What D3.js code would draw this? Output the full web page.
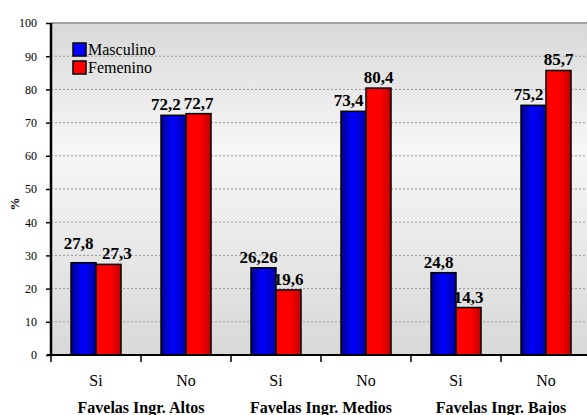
<!DOCTYPE html>
<html><head><meta charset="utf-8">
<script src="https://cdn.jsdelivr.net/npm/d3@7"></script>
<style>body{margin:0;background:#fff}svg{display:block}text{font-family:"Liberation Serif","Times New Roman",serif}</style>
</head><body><svg id="c" width="587" height="415"></svg>
<script>
const groups = ["Favelas Ingr. Altos","Favelas Ingr. Medios","Favelas Ingr. Bajos"];
const answers = ["Si","No"];
const seriesNames = ["Masculino","Femenino"];
const masculino = [27.8, 72.2, 26.26, 73.4, 24.8, 75.2];
const femenino  = [27.3, 72.7, 19.6, 80.4, 14.3, 85.7];
const masculinoLabels = ["27,8","72,2","26,26","73,4","24,8","75,2"];
const femeninoLabels  = ["27,3","72,7","19,6","80,4","14,3","85,7"];
const yTicks = [0,10,20,30,40,50,60,70,80,90,100];

const svg = d3.select("#c");
const L = 51, R = 591, T = 23, B = 355;
const slots = d3.range(groups.length*answers.length);
const x = d3.scaleBand().domain(slots).range([L,R]).padding(0);
const xs = d3.scaleBand().domain(seriesNames).range([0,x.bandwidth()]).paddingOuter(0.8).paddingInner(0);
const y = d3.scaleLinear().domain([0,100]).range([B,T]);

const defs = svg.append("defs");
const bg = defs.append("linearGradient").attr("id","bg").attr("x1",0).attr("y1",0).attr("x2",0).attr("y2",1);
bg.append("stop").attr("offset","0%").attr("stop-color","#d8d8d8");
bg.append("stop").attr("offset","38%").attr("stop-color","#f7f7f7");
bg.append("stop").attr("offset","100%").attr("stop-color","#d8d8d8");
const gb = defs.append("linearGradient").attr("id","gBlue");
gb.append("stop").attr("offset","0%").attr("stop-color","#00008a");
gb.append("stop").attr("offset","45%").attr("stop-color","#0000ff");
gb.append("stop").attr("offset","100%").attr("stop-color","#0000b0");
const gr = defs.append("linearGradient").attr("id","gRed");
gr.append("stop").attr("offset","0%").attr("stop-color","#ff0000");
gr.append("stop").attr("offset","55%").attr("stop-color","#ff0000");
gr.append("stop").attr("offset","100%").attr("stop-color","#c00000");
const fills = {"Masculino":"url(#gBlue)","Femenino":"url(#gRed)"};
const legendFills = {"Masculino":"#0000ff","Femenino":"#ff0000"};

svg.append("rect").attr("x",L).attr("y",T).attr("width",R-L).attr("height",B-T).attr("fill","url(#bg)");

// gridlines
svg.append("g").selectAll("line").data(yTicks.filter(d=>d>0&&d<100)).join("line")
  .attr("x1",L).attr("x2",R).attr("y1",d=>y(d)).attr("y2",d=>y(d))
  .attr("stroke","#9a9a9a").attr("stroke-width",1).attr("stroke-dasharray","2,2");
svg.append("line").attr("x1",L).attr("x2",R).attr("y1",y(100)).attr("y2",y(100))
  .attr("stroke","#a0a0a0").attr("stroke-width",2);

// bars
const data = slots.map(i=>({i, vals:[
  {s:"Masculino", v:masculino[i], lab:masculinoLabels[i]},
  {s:"Femenino", v:femenino[i], lab:femeninoLabels[i]}]}));
const g = svg.append("g");
data.forEach(d=>{
  d.vals.forEach(b=>{
    g.append("rect").attr("x",x(d.i)+xs(b.s)).attr("y",y(b.v))
      .attr("width",xs.bandwidth()).attr("height",B-y(b.v))
      .attr("fill",fills[b.s]).attr("stroke","#000").attr("stroke-width",1.5);
  });
});

// value labels
const lg = svg.append("g");
data.forEach(d=>{
  const bv = d.vals[0], rv = d.vals[1];
  const bx = x(d.i)+xs("Masculino")+xs.bandwidth()/2;
  const rx = x(d.i)+xs("Femenino")+xs.bandwidth()/2;
  const tb = lg.append("text").text(bv.lab).attr("font-size",17).attr("font-weight","bold").attr("text-anchor","middle");
  const tr = lg.append("text").text(rv.lab).attr("font-size",17).attr("font-weight","bold").attr("text-anchor","middle");
  const wb = tb.node().getComputedTextLength(), wr = tr.node().getComputedTextLength();
  let cb = bx-5, cr = rx;
  let yb = y(bv.v)-5, yr = y(rv.v)-5;
  // avoid red label overlapping blue bar
  if (rv.v < bv.v && yr-13 < y(bv.v) && cr - wr/2 < x(d.i)+xs("Femenino")+6) {
    cr = x(d.i)+xs("Femenino")+6+wr/2;
  }
  // avoid blue/red label overlap
  if (Math.abs(yb-yr) < 14 && cb+wb/2 > cr-wr/2-3) cb = cr-wr/2-3-wb/2;
  if (Math.abs(yb-yr) < 14 && rv.v < bv.v) yb = Math.min(yb, yr-10);
  tb.attr("x",cb).attr("y",yb);
  tr.attr("x",cr).attr("y",yr);
});

// axes
const ya = svg.append("g").attr("transform",`translate(${L},0)`)
  .call(d3.axisLeft(y).tickValues(yTicks).tickSize(5).tickPadding(9).tickFormat(d3.format("d")));
ya.select(".domain").remove();
ya.selectAll("line").attr("stroke","#000").attr("stroke-width",1.5);
ya.selectAll("text").attr("font-size",12).attr("font-family","Liberation Serif").attr("fill","#000");
svg.append("line").attr("x1",L).attr("x2",L).attr("y1",T).attr("y2",B+1).attr("stroke","#000").attr("stroke-width",2.5);

const xa = svg.append("g").attr("transform",`translate(0,${B})`);
xa.append("line").attr("x1",L-4).attr("x2",R).attr("y1",0).attr("y2",0).attr("stroke","#000").attr("stroke-width",2);
xa.selectAll("line.tk").data(slots.concat([slots.length])).join("line").attr("class","tk")
  .attr("x1",i=>L+i*x.step()).attr("x2",i=>L+i*x.step()).attr("y1",0).attr("y2",7)
  .attr("stroke","#000").attr("stroke-width",1.5);
xa.selectAll("text.ans").data(slots).join("text").attr("class","ans")
  .attr("x",i=>x(i)+x.bandwidth()/2).attr("y",31).attr("text-anchor","middle")
  .attr("font-size",16).text(i=>answers[i%answers.length]);
xa.selectAll("text.grp").data(groups).join("text").attr("class","grp")
  .attr("x",(d,k)=>x(k*2)+x.step()).attr("y",58).attr("text-anchor","middle")
  .attr("font-size",16).attr("font-weight","bold").text(d=>d);

// y title
svg.append("text").attr("transform","translate(19,204) rotate(-90)").attr("text-anchor","middle")
  .attr("font-size",13).attr("font-weight","bold").text("%");

// legend
const leg = svg.append("g").attr("transform","translate(73,43)");
seriesNames.forEach((s,k)=>{
  leg.append("rect").attr("x",0).attr("y",k*18).attr("width",13).attr("height",13)
    .attr("fill",legendFills[s]).attr("stroke","#000").attr("stroke-width",1.5);
  leg.append("text").attr("x",15).attr("y",k*18+12).attr("font-size",16).text(s);
});
</script></body></html>
